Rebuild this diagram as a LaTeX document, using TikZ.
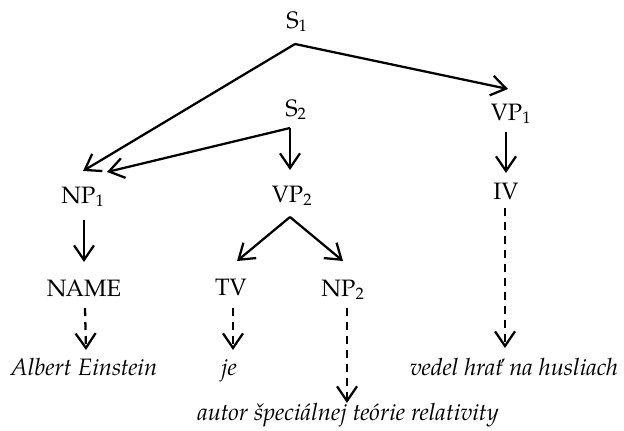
\documentclass[tikz,border=0pt]{standalone}
\usepackage{fontspec}
\setmainfont{TeX Gyre Pagella}
\usetikzlibrary{arrows.meta,calc}
\tikzset{
  lbl/.style={anchor=base,inner sep=0pt,font=\fontsize{17.8}{21}\selectfont},
  word/.style={lbl,font=\fontsize{17.8}{21}\selectfont\itshape},
  arr/.style={line width=1.7pt,-{Straight Barb[length=11pt,width=15pt,line width=1.7pt]}},
  darr/.style={arr,dash pattern=on 6pt off 4.5pt}
}
\begin{document}
\begin{tikzpicture}[x=0.75pt,y=-0.75pt]
\useasboundingbox (0,0) rectangle (624,430);
\node[lbl] (S1) at (297,28) {S\textsubscript{1}};
\node[lbl] (S2) at (296,116) {S\textsubscript{2}};
\node[lbl] (VP1) at (511,120) {VP\textsubscript{1}};
\node[lbl] (NP1) at (83,203) {NP\textsubscript{1}};
\node[lbl] (VP2) at (292,202) {VP\textsubscript{2}};
\node[lbl] (IV) at (506,199) {IV};
\node[lbl] (NAME) at (84,296) {NAME};
\node[lbl] (TV) at (231,295) {TV};
\node[lbl] (NP2) at (343,296) {NP\textsubscript{2}};
\node[word] (AE) at (84,375) {Albert Einstein};
\node[word] (je) at (229,375) {je};
\node[word] (vh) at (514,375) {vedel hrať na husliach};
\node[word] (au) at (348,420) {autor špeciálnej teórie relativity};

\draw[arr] ($(S1.base)+(-2,16)$) -- ($(NP1.base)+(0,-32)$);
\draw[arr] ($(S1.base)+(-2,16)$) -- ($(VP1.base)+(-3,-31)$);
\draw[arr] ($(S2.base)+(-6,12)$) -- ($(NP1.base)+(24,-31)$);
\draw[arr] ($(S2.base)+(-6,12)$) -- ($(VP2.base)+(-2,-32)$);
\draw[arr] ($(VP1.base)+(-5,12)$) -- ($(IV.base)+(0,-26)$);
\draw[arr] ($(NP1.base)+(1,17)$) -- ($(NAME.base)+(0,-34)$);
\draw[arr] ($(VP2.base)+(-2,15)$) -- ($(TV.base)+(6,-34)$);
\draw[arr] ($(VP2.base)+(-2,15)$) -- ($(NP2.base)+(0,-35)$);
\draw[darr] ($(NAME.base)+(1,12)$) -- ($(AE.base)+(2,-25)$);
\draw[darr] ($(TV.base)+(2,13)$) -- ($(je.base)+(4,-25)$);
\draw[darr] ($(NP2.base)+(4,12)$) -- ($(au.base)+(-1,-17)$);
\draw[darr] ($(IV.base)+(-1,9)$) -- ($(vh.base)+(-9,-27)$);
\end{tikzpicture}
\end{document}
